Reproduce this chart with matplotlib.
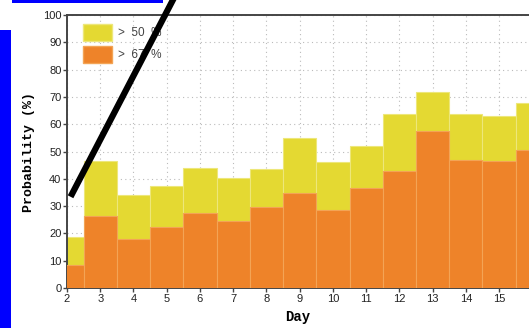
import matplotlib.pyplot as plt
from matplotlib.patches import Patch, Rectangle
from matplotlib.lines import Line2D

days = [2, 3, 4, 5, 6, 7, 8, 9, 10, 11, 12, 13, 14, 15, 16]
prob_50 = [18.5, 46.5, 34.0, 37.5, 44.0, 40.4, 43.6, 54.8, 46.2, 52.1, 63.6, 71.9, 63.7, 63.1, 67.9]
prob_67 = [8.5, 26.5, 18.0, 22.5, 27.5, 24.5, 29.8, 34.7, 28.4, 36.5, 43.0, 57.5, 46.9, 46.5, 50.7]
labels = ['>  50  %', '>  67  %']

yellow = '#e4d932'
orange = '#ee8329'

fig = plt.figure(figsize=(5.29, 3.28), dpi=100)
ax = fig.add_axes([67 / 529, 1 - 288 / 328, 1 - 67 / 529, 273 / 328])

ax.bar(days, prob_50, width=1.0, color=yellow, edgecolor='#ede77a', linewidth=0.8, zorder=2)
ax.bar(days, prob_67, width=1.0, color=orange, edgecolor='#f3a455', linewidth=0.8, zorder=3)

ax.set_xlim(2, 15.9)
ax.set_ylim(0, 100)
ax.set_xticks(range(2, 16))
ax.set_yticks(range(0, 101, 10))
ax.grid(True, linestyle=(0, (1, 3)), color='#bbbbbb', linewidth=0.8, zorder=0)
ax.set_axisbelow(True)

for s in ['left', 'bottom', 'top']:
    ax.spines[s].set_color('#444444')
    ax.spines[s].set_linewidth(1.4)
ax.spines['right'].set_visible(False)
ax.tick_params(length=3, width=1, color='#444444', labelsize=8, labelcolor='#222222', pad=1)
for t in ax.get_xticklabels() + ax.get_yticklabels():
    t.set_fontfamily('Liberation Sans')

ax.set_xlabel('Day', fontfamily='Liberation Mono', fontweight='bold', fontsize=10, labelpad=5)
ax.set_ylabel('Probability (%)', fontfamily='Liberation Mono', fontweight='bold', fontsize=9.5, labelpad=6)

handles = [Patch(facecolor=yellow, edgecolor='#ede77a'), Patch(facecolor=orange, edgecolor='#f3a455')]
leg = ax.legend(handles, labels, loc='upper left', bbox_to_anchor=(0.025, 0.985), borderaxespad=0,
                frameon=False, handlelength=2.4, handleheight=1.85, handletextpad=0.55,
                labelspacing=0.4, prop={'family': 'Liberation Sans', 'size': 8.5})
for t in leg.get_texts():
    t.set_color('#444444')

# overlay marks on top of the picture
fig.add_artist(Rectangle((0, 0), 11 / 529, 298 / 328, transform=fig.transFigure,
                         facecolor='#0000ff', edgecolor='none', zorder=10))
fig.add_artist(Rectangle((12 / 529, 1 - 3 / 328), 151 / 529, 3 / 328, transform=fig.transFigure,
                         facecolor='#0000ff', edgecolor='none', zorder=10))
fig.add_artist(Line2D([72 / 529, 176 / 529], [1 - 194 / 328, 1 + 6 / 328], transform=fig.transFigure,
                      color='black', linewidth=4.5, zorder=11))

fig.savefig('out.png', dpi=100)
